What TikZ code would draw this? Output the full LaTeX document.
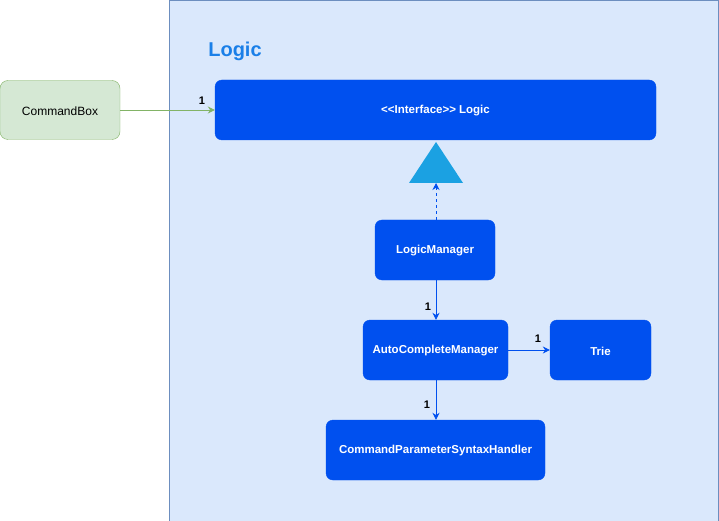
\documentclass[tikz,border=0pt]{standalone}
\usepackage{fontspec}
\setmainfont{Liberation Sans}
\usetikzlibrary{arrows.meta}
\definecolor{contfill}{HTML}{DAE8FC}
\definecolor{contdraw}{HTML}{6C8EBF}
\definecolor{bluebox}{HTML}{0050EF}
\definecolor{greenfill}{HTML}{D5E8D4}
\definecolor{greendraw}{HTML}{82B366}
\definecolor{tri}{HTML}{1BA1E2}
\definecolor{titleblue}{HTML}{1A7FE8}
\definecolor{arrowblue}{HTML}{0050EF}
\begin{document}
\begin{tikzpicture}[x=1pt,y=-1pt,
  cls/.style={draw=bluebox,fill=bluebox,rounded corners=7pt,inner sep=0pt},
  clstext/.style={text=white,font=\fontsize{11.5}{13}\selectfont\bfseries,inner sep=0pt},
  grn/.style={draw=greendraw,fill=greenfill,rounded corners=8pt,font=\fontsize{12}{14}\selectfont,inner sep=0pt},
  assoc/.style={draw=arrowblue,-{Stealth[length=7pt,width=7pt]},line width=0.8pt},
  mult/.style={font=\fontsize{11}{13}\selectfont\bfseries,inner sep=0pt}]
\useasboundingbox (0,0) rectangle (719,521);
\node[draw=contdraw,fill=contfill,minimum width=549pt,minimum height=520pt,anchor=north west,inner sep=0pt] (cont) at (169,0.5) {};
\node[font=\fontsize{20}{24}\selectfont\bfseries,text=titleblue] (title) at (235,51) {Logic};
\node[grn,minimum width=120pt,minimum height=59pt] (cb) at (60,110) {};
\node[font=\fontsize{12}{14}\selectfont,inner sep=0pt] (cbtext) at (60,111) {CommandBox};
\node[cls,minimum width=441pt,minimum height=60pt] (ilogic) at (435.5,110) {};
\node[clstext] (ilogictext) at (435.5,111) {<\kern0pt<Interface>\kern0pt> Logic};
\fill[tri] (409,183) -- (436,142) -- (463,183) -- cycle;
\coordinate (tribase) at (436,183);
\node[cls,minimum width=120pt,minimum height=60pt] (lm) at (435,250) {};
\node[clstext] (lmtext) at (435,251) {LogicManager};
\node[cls,minimum width=145pt,minimum height=60pt] (acm) at (435.5,350) {};
\node[clstext] (acmtext) at (435.5,351) {AutoCompleteManager};
\node[cls,minimum width=101pt,minimum height=60pt] (trie) at (600.5,350) {};
\node[clstext] (trietext) at (600.5,351) {Trie};
\node[cls,minimum width=219pt,minimum height=60pt] (cpsh) at (435.5,450) {};
\node[clstext] (cpshtext) at (435.5,451) {CommandParameterSyntaxHandler};
\draw[draw=arrowblue,dashed,line width=0.8pt,-{Stealth[length=7pt,width=7pt]}] (lm.north -| tribase) -- (tribase);
\draw[assoc] (lm.south -| 436,0) -- (acm.north -| 436,0);
\draw[assoc] (acm.east) -- (trie.west);
\draw[assoc] (acm.south -| 436,0) -- (cpsh.north -| 436,0);
\draw[draw=greendraw,line width=0.8pt,-{Stealth[length=7pt,width=7pt]}] (cb.east) -- (ilogic.west);
\node[mult] (m1) at (202,101) {1};
\node[mult] (m2) at (428,307) {1};
\node[mult] (m3) at (538,339) {1};
\node[mult] (m4) at (427,405) {1};
\end{tikzpicture}
\end{document}
